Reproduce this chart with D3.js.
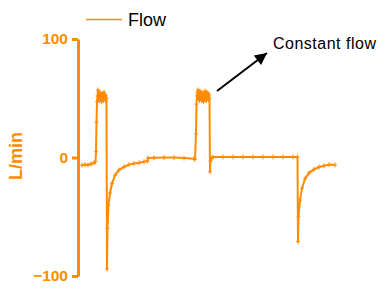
<!DOCTYPE html>
<html>
<head>
<meta charset="utf-8">
<script src="https://cdn.jsdelivr.net/npm/d3@7"></script>
<style>
  body { margin: 0; background: #fff; }
  svg { display: block; font-family: "Liberation Sans", Arial, sans-serif; }
</style>
</head>
<body>
<div id="chart"></div>
<script>
// flow trace, time in seconds, flow in L/min
var time = [
  0.3, 0.6, 0.9, 1.2, 1.5, 1.65,
  1.7, 1.75, 1.8, 1.85, 1.9, 1.95, 2.0, 2.05, 2.1, 2.15, 2.2, 2.25, 2.3, 2.35, 2.4, 2.45, 2.5, 2.55, 2.6, 2.65, 2.7, 2.75,
  2.8, 2.85, 2.95, 3.1, 3.3, 3.6, 4.0, 4.5, 5.0, 5.5, 6.0, 6.5, 6.85,
  6.9, 7.5, 8.5, 9.5, 10.5, 11.5, 11.6,
  11.7, 11.75, 11.8, 11.85, 11.9, 11.95, 12.0, 12.05, 12.1, 12.15, 12.2, 12.25, 12.3, 12.35, 12.4, 12.45, 12.5, 12.55, 12.6, 12.65, 12.7, 12.75, 12.8, 12.85, 12.9, 12.95, 13.0, 13.05,
  13.1, 13.15, 13.25, 13.4, 14.4, 15.4, 16.4, 17.4, 18.4, 19.4, 20.4, 21.4, 21.85,
  21.9, 21.95, 22.1, 22.3, 22.6, 23.0, 23.5, 24.0, 24.5, 25.0, 25.6
];
var flow = [
  -6.5, -6, -6.3, -5.5, -4.5, -3.5,
  5, 30, 47, 52, 57, 49, 54, 48, 55, 50, 53, 47, 54, 49, 52, 48, 55, 50, 53, 48, 52, 50,
  -94, -60, -40, -30, -22, -15, -10.5, -8, -6, -5, -4.5, -3.5, -3,
  -0.5, -0.3, 0, 0, -0.5, -1, -1.5,
  20, 45, 52, 55, 57, 50, 54, 48, 56, 50, 53, 48, 55, 49, 52, 47, 54, 50, 56, 49, 53, 48, 55, 51, 54, 49, 53, 50,
  -12, -3, -1, 0.5, 0.5, 0.5, 0.5, 0.5, 0.5, 0.5, 0.5, 0.5, 0.5,
  -71, -50, -36, -26, -18, -13, -10, -8, -7, -6, -6.3
];
var yTicks = [100, 0, -100];
var seriesName = "Flow";
var noteText = "Constant flow";

var orange = "#ff8c00";
var svg = d3.select("#chart").append("svg")
  .attr("width", 387)
  .attr("height", 301);

var x = d3.scaleLinear().domain([0, 26]).range([79, 339]);
var y = d3.scaleLinear().domain([-100, 100]).range([276, 39]);

var data = time.map(function (t, i) { return { t: t, f: flow[i] }; });

// y axis
var yAxis = svg.append("g")
  .attr("transform", "translate(78,0)")
  .call(d3.axisLeft(y).tickValues(yTicks).tickSize(6).tickPadding(4).tickSizeOuter(0));
yAxis.select(".domain").attr("stroke", orange).attr("stroke-width", 3);
yAxis.selectAll(".tick line").attr("stroke", orange).attr("stroke-width", 3);
yAxis.selectAll(".tick text")
  .attr("fill", orange)
  .attr("font-size", 15.5)
  .attr("font-weight", "bold")
  .attr("font-family", "Liberation Sans, Arial, sans-serif");

svg.append("text")
  .attr("transform", "translate(22,156) rotate(-90)")
  .attr("text-anchor", "middle")
  .attr("fill", orange)
  .attr("font-size", 18)
  .attr("font-weight", "bold")
  .text("L/min");

// trace
var line = d3.line()
  .x(function (d) { return x(d.t); })
  .y(function (d) { return y(d.f); });

svg.append("path")
  .datum(data)
  .attr("fill", "none")
  .attr("stroke", orange)
  .attr("stroke-width", 2)
  .attr("stroke-linejoin", "round")
  .attr("d", line);

// small + markers at samples
svg.selectAll("path.mark").data(data)
  .enter().append("path")
  .attr("class", "mark")
  .attr("d", function (d) {
    var cx = x(d.t), cy = y(d.f);
    return "M" + (cx - 2) + "," + cy + "H" + (cx + 2) + "M" + cx + "," + (cy - 2.5) + "V" + (cy + 2.5);
  })
  .attr("stroke", orange)
  .attr("stroke-width", 1);

// legend
svg.append("line")
  .attr("x1", 86).attr("x2", 122)
  .attr("y1", 19.5).attr("y2", 19.5)
  .attr("stroke", orange)
  .attr("stroke-width", 1.5);
svg.append("text")
  .attr("x", 128).attr("y", 26)
  .attr("font-size", 18)
  .attr("fill", "#000")
  .text(seriesName);

// annotation arrow
svg.append("defs").append("marker")
  .attr("id", "head")
  .attr("viewBox", "0 0 10 10")
  .attr("refX", 10).attr("refY", 5)
  .attr("markerWidth", 7).attr("markerHeight", 6)
  .attr("markerUnits", "strokeWidth")
  .attr("orient", "auto")
  .append("path")
  .attr("d", "M0,0L10,5L0,10z")
  .attr("fill", "#000");

svg.append("line")
  .attr("x1", 217).attr("y1", 91)
  .attr("x2", 267).attr("y2", 53)
  .attr("stroke", "#000")
  .attr("stroke-width", 2)
  .attr("marker-end", "url(#head)");

svg.append("text")
  .attr("x", 273).attr("y", 49)
  .attr("font-size", 16)
  .attr("letter-spacing", 0.5)
  .attr("fill", "#000")
  .text(noteText);
</script>
</body>
</html>
